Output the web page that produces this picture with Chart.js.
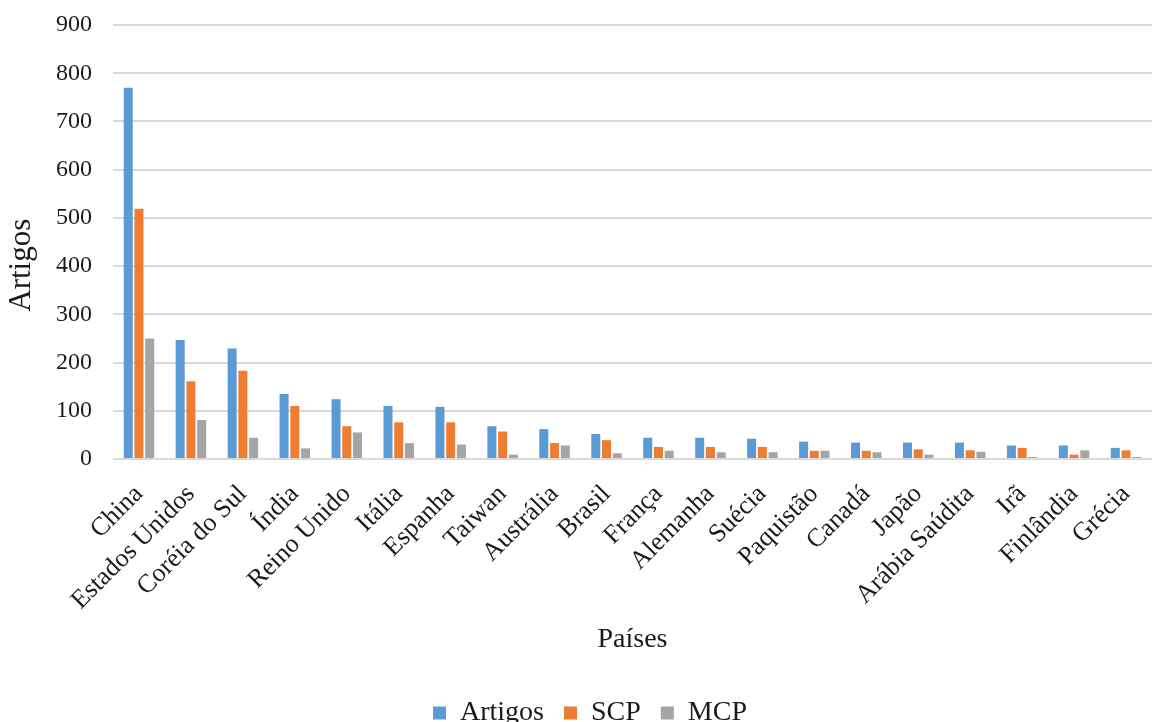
<!DOCTYPE html>
<html lang="pt">
<head>
<meta charset="utf-8">
<title>Artigos por país</title>
<script src="https://cdn.jsdelivr.net/npm/chart.js@4.4.1/dist/chart.umd.min.js"></script>
<style>
  html, body { margin: 0; padding: 0; background: #ffffff; }
  #wrap { width: 1152px; height: 722px; position: relative; }
</style>
</head>
<body>
<div id="wrap"><canvas id="chart"></canvas></div>
<script>
// Países e número de artigos por tipo
const paises = ["China", "Estados Unidos", "Coréia do Sul", "Índia", "Reino Unido", "Itália", "Espanha",
  "Taiwan", "Austrália", "Brasil", "França", "Alemanha", "Suécia", "Paquistão", "Canadá", "Japão",
  "Arábia Saúdita", "Irã", "Finlândia", "Grécia"];
const artigos = [770, 247, 229, 135, 124, 110, 108, 68, 62, 52, 44, 44, 42, 36, 34, 34, 34, 28, 28, 23];
const scp     = [519, 161, 183, 110, 68, 76, 76, 57, 33, 39, 25, 25, 25, 17, 17, 20, 18, 23, 9, 18];
const mcp     = [250, 81, 44, 22, 55, 33, 30, 9, 28, 12, 17, 14, 14, 17, 14, 9, 15, 4, 18, 4];
const yTicks  = [0, 100, 200, 300, 400, 500, 600, 700, 800, 900];

const serif = '"Liberation Serif", "Times New Roman", serif';
const textColor = '#1a1a1a';

// nudge the legend row a little to the right of the canvas centre
const legendShift = {
  id: 'legendShift',
  afterLayout(chart) {
    const lg = chart.legend;
    if (!lg) return;
    lg.left += 14;
    lg.right += 14;
    (lg.legendHitBoxes || []).forEach(b => { b.left += 14; });
  }
};

new Chart(document.getElementById('chart'), {
  type: 'bar',
  data: {
    labels: paises,
    datasets: [
      { label: 'Artigos', data: artigos, backgroundColor: '#5b9bd5' },
      { label: 'SCP', data: scp, backgroundColor: '#ed7d31' },
      { label: 'MCP', data: mcp, backgroundColor: '#a5a5a5' }
    ]
  },
  plugins: [legendShift],
  options: {
    responsive: true,
    maintainAspectRatio: false,
    animation: false,
    categoryPercentage: 0.62,
    barPercentage: 0.84,
    layout: { padding: { top: 25, right: 0, bottom: -15, left: 0 } },
    plugins: {
      tooltip: { enabled: false },
      legend: {
        position: 'bottom',
        labels: {
          boxWidth: 13,
          boxHeight: 13,
          padding: 20,
          color: textColor,
          font: { family: serif, size: 28 }
        }
      }
    },
    scales: {
      x: {
        grid: { display: false, drawTicks: true, tickLength: 18 },
        border: { display: false },
        ticks: {
          autoSkip: false,
          minRotation: 45,
          maxRotation: 45,
          padding: 2,
          color: textColor,
          font: { family: serif, size: 26 }
        },
        title: {
          display: true,
          text: 'Países',
          color: textColor,
          font: { family: serif, size: 28 },
          padding: { top: 0, bottom: 23 }
        },
        afterFit: (scale) => { scale.height = 220; }
      },
      y: {
        min: 0,
        max: 900,
        afterBuildTicks: (scale) => { scale.ticks = yTicks.map(v => ({ value: v })); },
        grid: { color: '#d9d9d9', lineWidth: 2, drawTicks: true, tickLength: 21, tickColor: 'rgba(0,0,0,0)' },
        border: { display: false },
        ticks: {
          padding: 0,
          color: textColor,
          font: { family: serif, size: 24 }
        },
        title: {
          display: true,
          text: 'Artigos      ',
          color: textColor,
          font: { family: serif, size: 31 },
          padding: { top: 3, bottom: 0 }
        },
        afterFit: (scale) => { scale.width = 113; }
      }
    }
  }
});
</script>
</body>
</html>
